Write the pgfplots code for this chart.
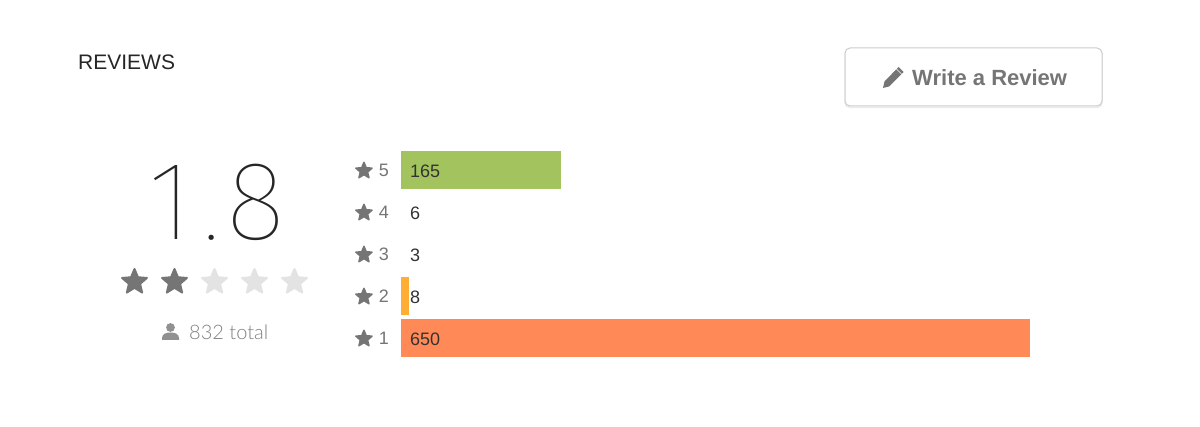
\documentclass[border=0pt]{standalone}
\usepackage{fontspec}
\setmainfont{Liberation Sans}
\newfontfamily\thinfont{Fira Sans Thin}
\newfontfamily\lightfont{Lato Light}
\usepackage{pgfplots}
\usepackage{pgfplotstable}
\pgfplotsset{compat=1.18}
\definecolor{barGreen}{HTML}{A2C35D}
\definecolor{barAmber}{HTML}{FFAE33}
\definecolor{barCoral}{HTML}{FF8A57}
\definecolor{iconGray}{HTML}{757575}
\definecolor{starOff}{HTML}{E3E3E3}
\definecolor{labelDark}{HTML}{333333}
\newcommand{\px}[2]{\fontsize{#1}{#2}\selectfont}
% rounded five point star, radius #1
\newcommand{\starpath}[1]{(90:#1) -- (126:{0.45*#1}) -- (162:#1) -- (198:{0.45*#1}) -- (234:#1) -- (270:{0.45*#1}) -- (306:#1) -- (342:{0.45*#1}) -- (18:#1) -- (54:{0.45*#1}) -- cycle}
\newsavebox{\rowstar}
\newcommand{\rowlabel}[1]{\textcolor{iconGray}{\raisebox{-2pt}{\usebox{\rowstar}}\hspace{6pt}\px{18}{20}#1}}
\pgfplotstableread{
start row label
0 5 165
0 4 6
0 3 3
0 2 8
0 1 650
}\reviewcounts
\begin{document}
\sbox{\rowstar}{\tikz[x=1pt,y=1pt]\filldraw[iconGray,line width=1.5pt,line join=round] \starpath{8.5};}%
\begin{tikzpicture}[x=1pt,y=1pt]
\path[use as bounding box,fill=white] (0,0) rectangle (1200,426);
% heading
\node[anchor=west,inner sep=0,text=black!85] at (78,364) {\px{21}{24}REVIEWS};
% button, y is 426 minus pixel row
\draw[draw=black!8,line width=1.5pt,rounded corners=5pt] (845,318.5) rectangle (1102,377);
\draw[draw=black!20,fill=white,line width=1pt,rounded corners=5pt] (845,320) rectangle (1102,378);
\node[anchor=west,inner sep=0,text=iconGray] at (912,348.5) {\px{22}{25}\bfseries Write a Review};
\fill[iconGray] (883,338) -- (889,339.5) -- (903.5,354) -- (898.5,359) -- (884.5,344.5) -- cycle;
\draw[white,line width=.6pt] (896,357.5) -- (901.5,352);
% big rating
\node[anchor=base east,inner sep=0,text=black!85] at (286,186) {\thinfont\px{112}{114}1\hspace{10pt}.\hspace{6pt}8};
\foreach \xc/\col in {134.5/iconGray,174.5/iconGray,214.5/starOff,254.5/starOff,294.5/starOff}
  \filldraw[\col,line width=2pt,line join=round,shift={(\xc,144)}] \starpath{13};
% total
\fill[iconGray!80] (170.5,98.5) circle (4.4);
\fill[iconGray!80] (162,86) -- (179,86) -- (179,88) .. controls (179,92.5) and (174,93.5) .. (170.5,93.5) .. controls (167,93.5) and (162,92.5) .. (162,88) -- cycle;
\node[anchor=west,inner sep=0,text=black!50] at (189,94) {\lightfont\px{20}{22}832 total};
\begin{axis}[
    at={(401pt,67pt)}, anchor=south west,
    scale only axis,
    width=629pt, height=210pt,
    xmin=0, xmax=650,
    ymin=0.5, ymax=5.5,
    axis line style={draw=none},
    major tick length=0pt,
    xtick=\empty,
    ytick={1,2,3,4,5},
    yticklabels={\rowlabel{1},\rowlabel{2},\rowlabel{3},\rowlabel{4},\rowlabel{5}},
    y tick label style={anchor=east,inner sep=0pt,xshift=-12pt},
    clip=false,
]
\addplot[xbar,bar width=38pt,bar shift=0pt,fill=barGreen,draw=none] coordinates {(165,5)};
\addplot[xbar,bar width=38pt,bar shift=0pt,fill=barAmber,draw=none] coordinates {(8,2)};
\addplot[xbar,bar width=38pt,bar shift=0pt,fill=barCoral,draw=none] coordinates {(650,1)};
% value labels all start at the same x, not at the bar end
\addplot[only marks,mark=none,
    nodes near coords,point meta=explicit symbolic,
    nodes near coords style={anchor=west,inner sep=0pt,xshift=9pt,yshift=-1pt,text=labelDark,font=\px{18}{20}},
] table[x=start,y=row,meta=label] {\reviewcounts};
\end{axis}
\end{tikzpicture}
\end{document}
